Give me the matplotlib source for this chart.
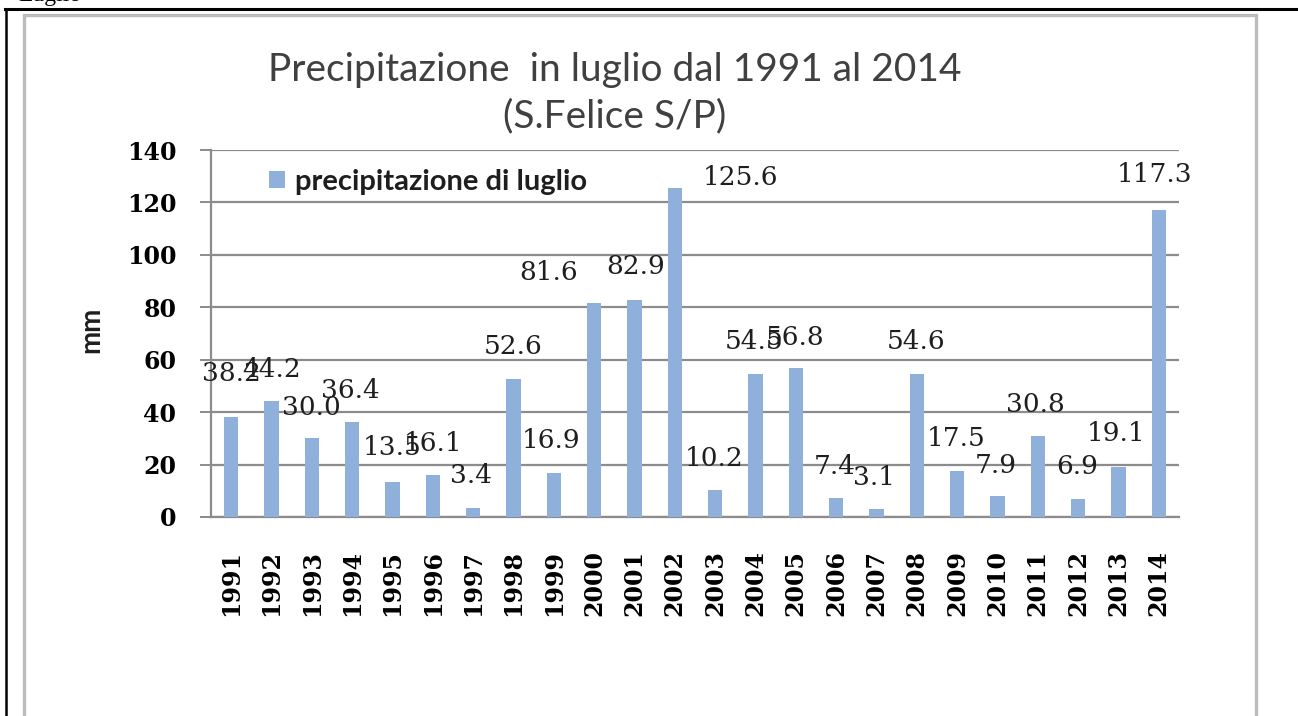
import matplotlib
matplotlib.use("Agg")
import matplotlib.pyplot as plt
from matplotlib.patches import Rectangle
from matplotlib.lines import Line2D

years = ["1991", "1992", "1993", "1994", "1995", "1996", "1997", "1998",
         "1999", "2000", "2001", "2002", "2003", "2004", "2005", "2006",
         "2007", "2008", "2009", "2010", "2011", "2012", "2013", "2014"]
rain = [38.2, 44.2, 30.0, 36.4, 13.5, 16.1, 3.4, 52.6, 16.9, 81.6, 82.9, 125.6,
        10.2, 54.5, 56.8, 7.4, 3.1, 54.6, 17.5, 7.9, 30.8, 6.9, 19.1, 117.3]
yticks = [0, 20, 40, 60, 80, 100, 120, 140]

# label offsets (pixels) from bar top, as placed in the original chart
label_dx = [0, 0, 0, -2, 0, 0, -2, 0, -3, -46, 1, 66,
            -1, -1, -1, -1, -2, -1, -1, -2, -2, -1, -2, -4]
label_dy = [43, 32, 31, 31, 34, 31, 33, 33, 32, 31, 33, 10,
            32, 33, 31, 31, 31, 32, 33, 31, 32, 32, 33, 35]

W, H = 1298, 716
fig = plt.figure(figsize=(W / 100, H / 100), dpi=100)
fig.patch.set_facecolor("white")

def fx(px):
    return px / W

def fy(py):
    return 1 - py / H

# page decorations: black table borders and cut-off text
fig.add_artist(Line2D([fx(5), fx(1298)], [fy(8.5), fy(8.5)], color="black", lw=2.2,
                      transform=fig.transFigure))
fig.add_artist(Line2D([fx(6), fx(6)], [fy(8.5), fy(716)], color="black", lw=1.8,
                      transform=fig.transFigure))
fig.text(fx(18), fy(1), "Luglio", family="Liberation Serif", fontsize=17,
         ha="left", va="baseline", color="black")
# chart frame
fig.add_artist(Rectangle((fx(24), fy(730)), fx(1256 - 24), fy(15) - fy(730),
                         fill=False, edgecolor="#bcbcbc", lw=2.4,
                         transform=fig.transFigure))

ax = fig.add_axes([fx(211), fy(517), fx(1179 - 211), fy(150) - fy(517)])
x = list(range(len(years)))
bar_color = "#8FB0DB"
bars = ax.bar(x, rain, width=0.35, color=bar_color, zorder=3,
              label="precipitazione di luglio")
ax.set_xlim(-0.5, len(years) - 0.5)
ax.set_ylim(0, 140)
ax.set_yticks(yticks)
ax.set_yticklabels([str(v) for v in yticks], family="DejaVu Serif",
                   fontweight="bold", fontsize=17)
ax.set_xticks(x)
ax.set_xticklabels(years, rotation=90, family="DejaVu Serif",
                   fontweight="bold", fontsize=17, va="top", ha="center")
ax.tick_params(axis="x", length=0, pad=24)
ax.tick_params(axis="y", length=8, width=1.4, color="#8c8c8c", pad=17)
ax.grid(axis="y", color="#8c8c8c", lw=1.6, zorder=0)
for s in ["top", "right"]:
    ax.spines[s].set_visible(False)
for s in ["left", "bottom"]:
    ax.spines[s].set_color("#8c8c8c")
    ax.spines[s].set_linewidth(1.6)
ax.set_facecolor("none")

for xi, v, dx, dy in zip(x, rain, label_dx, label_dy):
    ax.annotate(f"{v:.1f}", (xi, v), xytext=(dx, dy), textcoords="offset pixels",
                ha="center", va="center", family="DejaVu Serif", fontsize=19,
                color="#1e1e1e", zorder=5)

fig.text(fx(91), fy(330), "mm", rotation=90, family="Lato", fontweight="bold",
         fontsize=20, ha="center", va="center", color="#1e1e1e")

fig.text(fx(615), fy(70), "Precipitazione  in luglio dal 1991 al 2014",
         family="Lato", fontsize=28, ha="center", va="center", color="#404040")
fig.text(fx(615), fy(116), "(S.Felice S/P)", family="Lato", fontsize=28,
         ha="center", va="center", color="#404040")

leg = ax.legend(loc="center left", bbox_to_anchor=(fx(254), fy(182)),
                bbox_transform=fig.transFigure, frameon=False, borderpad=0,
                handlelength=0.55, handleheight=0.55, handletextpad=0.35,
                prop={"family": "Lato", "weight": "bold", "size": 21})
for t in leg.get_texts():
    t.set_color("#1e1e1e")

fig.savefig("out.png", dpi=100)
